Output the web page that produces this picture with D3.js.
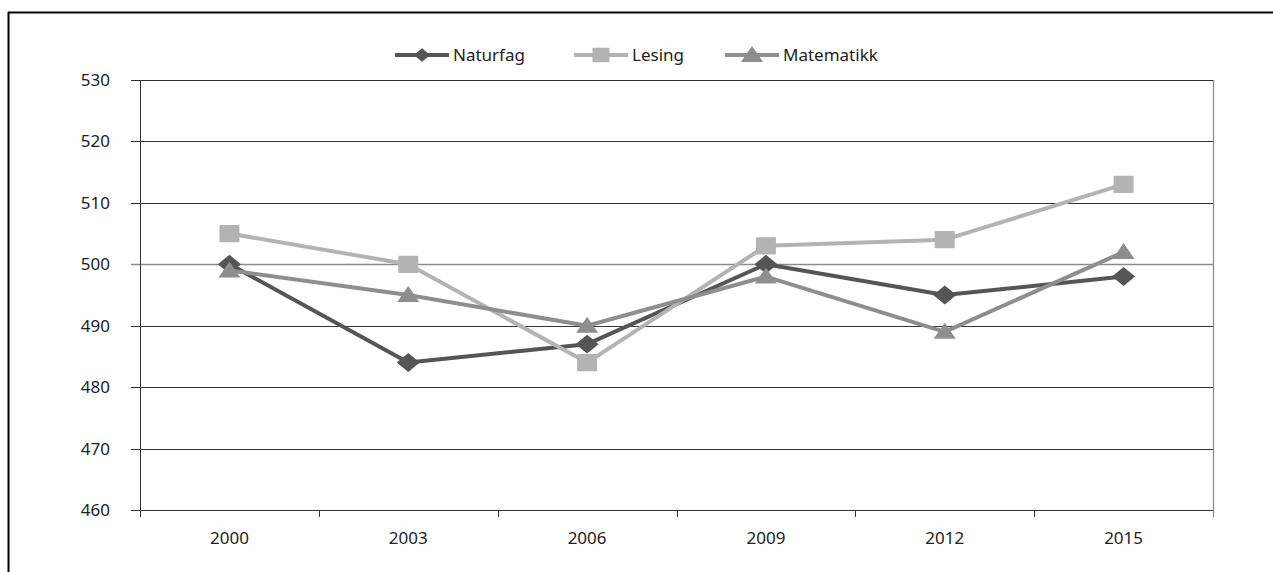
<!DOCTYPE html>
<html><head><meta charset="utf-8">
<script src="https://cdn.jsdelivr.net/npm/d3@7"></script>
<style>body{margin:0;background:#fff}svg{display:block}text{font-family:"Noto Sans",sans-serif;fill:#222}</style>
</head><body>
<script>
const years = ["2000","2003","2006","2009","2012","2015"];
const naturfag = [500,484,487,500,495,498];
const lesing = [505,500,484,503,504,513];
const matematikk = [499,495,490,498,489,502];
const yTicks = [460,470,480,490,500,510,520,530];
const seriesNames = ["Naturfag","Lesing","Matematikk"];
const seriesColors = ["#555555","#b3b3b3","#8e8e8e"];
const seriesShapes = ["diamond","square","triangle"];

const W=1273,H=572;
const svg=d3.select("body").append("svg").attr("width",W).attr("height",H);
const L=140,R=1213,T=80,B=510;
const x=d3.scaleBand().domain(years).range([L,R]);
const y=d3.scaleLinear().domain([460,530]).range([B,T]);

// frame
svg.append("line").attr("x1",8).attr("x2",W).attr("y1",12.5).attr("y2",12.5).attr("stroke","#000").attr("stroke-width",2);
svg.append("line").attr("x1",8.5).attr("x2",8.5).attr("y1",12).attr("y2",H).attr("stroke","#000").attr("stroke-width",2);

// gridlines
svg.append("g").selectAll("line").data(yTicks).join("line")
  .attr("x1",131).attr("x2",R).attr("y1",d=>Math.round(y(d))+0.5).attr("y2",d=>Math.round(y(d))+0.5)
  .attr("stroke",d=>d===500?"#8a8a8a":"#333").attr("stroke-width",d=>d===500?1.6:1);
// right border
svg.append("line").attr("x1",R+0.5).attr("x2",R+0.5).attr("y1",T).attr("y2",B+7).attr("stroke","#888").attr("stroke-width",1.2);
// left axis
svg.append("line").attr("x1",L+0.5).attr("x2",L+0.5).attr("y1",T).attr("y2",B+7).attr("stroke","#333").attr("stroke-width",1);
// x ticks
const bounds = years.map(d=>x(d)).concat([R]);
svg.append("g").selectAll("line").data(bounds.slice(1,-1)).join("line")
  .attr("x1",d=>Math.round(d)+0.5).attr("x2",d=>Math.round(d)+0.5).attr("y1",B).attr("y2",B+7).attr("stroke","#333");
// y labels
svg.append("g").selectAll("text").data(yTicks).join("text")
  .attr("x",110).attr("y",d=>y(d)).attr("dy","0.35em").attr("text-anchor","end").attr("font-size",17).text(d=>d);
// x labels
svg.append("g").selectAll("text").data(years).join("text")
  .attr("x",d=>x(d)+x.bandwidth()/2).attr("y",538).attr("dy","0.35em").attr("text-anchor","middle").attr("font-size",17).text(d=>d);

function marker(g,shape,cx,cy,color,s){
  if(shape==="diamond"){
    g.append("path").attr("d",`M${cx-s*0.55},${cy}L${cx},${cy-s*0.45}L${cx+s*0.55},${cy}L${cx},${cy+s*0.45}Z`).attr("fill",color);
  } else if(shape==="square"){
    g.append("rect").attr("x",cx-s*0.5).attr("y",cy-s*0.43).attr("width",s).attr("height",s*0.86).attr("rx",1).attr("fill",color);
  } else {
    g.append("path").attr("d",`M${cx},${cy-s*0.45}L${cx+s*0.55},${cy+s*0.35}L${cx-s*0.55},${cy+s*0.35}Z`).attr("fill",color);
  }
}
const data=[naturfag,lesing,matematikk];
const line=d3.line().x((d,i)=>x(years[i])+x.bandwidth()/2).y(d=>y(d));
[0,1,2].forEach(k=>{
  const g=svg.append("g");
  g.append("path").attr("d",line(data[k])).attr("fill","none").attr("stroke",seriesColors[k]).attr("stroke-width",4).attr("stroke-linejoin","round");
  data[k].forEach((v,i)=>marker(g,seriesShapes[k],x(years[i])+x.bandwidth()/2,y(v),seriesColors[k],k===0?21:20));
});

// legend
const legX=[395,574,725];
seriesNames.forEach((n,k)=>{
  const g=svg.append("g");
  g.append("line").attr("x1",legX[k]).attr("x2",legX[k]+54).attr("y1",55).attr("y2",55).attr("stroke",seriesColors[k]).attr("stroke-width",4);
  marker(g,seriesShapes[k],legX[k]+27,55,seriesColors[k],k===0?15:(k===1?17:20));
  g.append("text").attr("x",legX[k]+58).attr("y",55).attr("dy","0.35em").attr("font-size",17).text(n);
});
</script>
</body></html>
